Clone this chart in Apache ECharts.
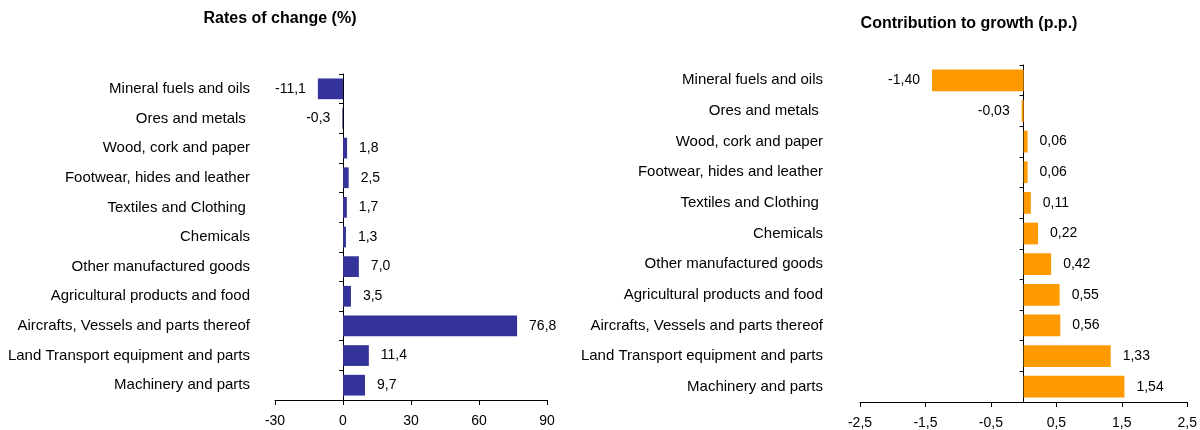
<!DOCTYPE html>
<html>
<head>
<meta charset="utf-8">
<script src="https://cdn.jsdelivr.net/npm/echarts@6/dist/echarts.min.js"></script>
<style>
html,body{margin:0;padding:0;background:#fff;}
#c{width:1200px;height:430px;}
</style>
</head>
<body>
<div id="c"></div>
<script>
const categories = [
  "Mineral fuels and oils",
  "Ores and metals ",
  "Wood, cork and paper",
  "Footwear, hides and leather",
  "Textiles and Clothing ",
  "Chemicals",
  "Other manufactured goods",
  "Agricultural products and food",
  "Aircrafts, Vessels and parts thereof",
  "Land Transport equipment and parts",
  "Machinery and parts"
];
const ratesOfChange = [-11.1, -0.3, 1.8, 2.5, 1.7, 1.3, 7.0, 3.5, 76.8, 11.4, 9.7];
const contribution = [-1.40, -0.03, 0.06, 0.06, 0.11, 0.22, 0.42, 0.55, 0.56, 1.33, 1.54];
const leftTitle = "Rates of change (%)";
const rightTitle = "Contribution to growth (p.p.)";

const FONT = "'Liberation Sans', Arial, sans-serif";
const comma = (v, d) => v.toFixed(d).replace('.', ',');

function barData(vals) {
  return vals.map(v => ({ value: v, label: { position: v < 0 ? 'left' : 'right' } }));
}

function catAxisLabels(gridIndex, margin) {
  return {
    type: 'category', gridIndex, data: categories, inverse: true, position: 'left',
    axisLine: { show: false, onZero: false }, axisTick: { show: false },
    axisLabel: { margin, color: '#000', fontSize: 15, fontFamily: FONT }
  };
}
function catAxisLine(gridIndex) {
  return {
    type: 'category', gridIndex, data: categories, inverse: true, position: 'left',
    axisLine: { show: true, onZero: true, lineStyle: { color: '#000', width: 1 } },
    axisTick: { show: true, length: 4, lineStyle: { color: '#000' } },
    axisLabel: { show: false }
  };
}
function valAxis(gridIndex, min, max, interval, dec) {
  return {
    type: 'value', gridIndex, min, max, interval,
    splitLine: { show: false },
    axisLine: { show: true, lineStyle: { color: '#000', width: 1 } },
    axisTick: { show: true, length: 5, lineStyle: { color: '#000' } },
    axisLabel: { margin: 14, color: '#000', fontSize: 14, fontFamily: FONT,
      formatter: v => comma(v, dec) }
  };
}

const chart = echarts.init(document.getElementById('c'));
chart.setOption({
  animation: false,
  title: [
    { text: leftTitle, left: 275, top: 6, textAlign: 'center',
      textStyle: { fontSize: 16, fontWeight: 'bold', color: '#000', fontFamily: FONT } },
    { text: rightTitle, left: 964, top: 11, textAlign: 'center',
      textStyle: { fontSize: 16, fontWeight: 'bold', color: '#000', fontFamily: FONT } }
  ],
  grid: [
    { left: 275, right: 653, top: 74, bottom: 30 },
    { left: 860, right: 12, top: 65, bottom: 28 }
  ],
  xAxis: [valAxis(0, -30, 90, 30, 0), valAxis(1, -2.5, 2.5, 1, 1)],
  yAxis: [catAxisLabels(0, 25), catAxisLine(0), catAxisLabels(1, 37), catAxisLine(1)],
  series: [
    { type: 'bar', xAxisIndex: 0, yAxisIndex: 0, data: barData(ratesOfChange),
      barWidth: '70%', itemStyle: { color: '#333399' },
      label: { show: true, distance: 12, color: '#000', fontSize: 14, fontFamily: FONT,
        formatter: p => comma(p.value, 1) } },
    { type: 'bar', xAxisIndex: 1, yAxisIndex: 2, data: barData(contribution),
      barWidth: '71%', itemStyle: { color: '#FF9900' },
      label: { show: true, distance: 12, color: '#000', fontSize: 14, fontFamily: FONT,
        formatter: p => comma(p.value, 2) } }
  ]
});
</script>
</body>
</html>
